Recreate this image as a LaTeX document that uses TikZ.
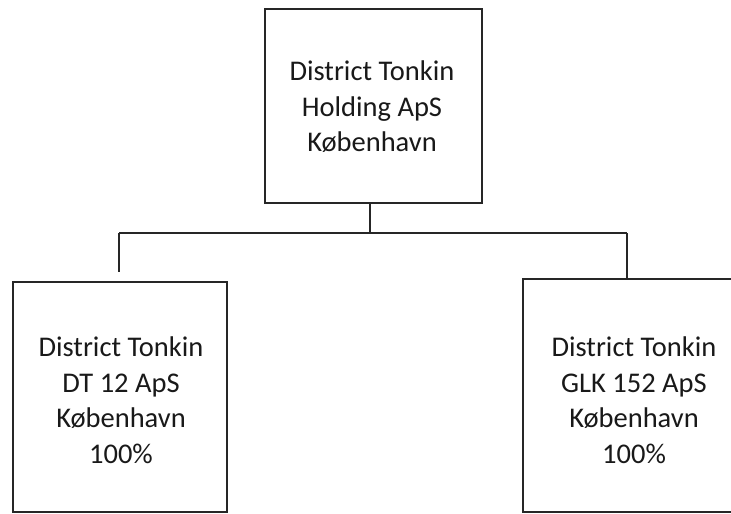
\documentclass[tikz,border=0pt]{standalone}
\usepackage{fontspec}
\setmainfont{Carlito}
\begin{document}
\begin{tikzpicture}[x=1pt,y=-1pt,
  box/.style={draw=black!85,line width=2pt,rectangle,inner sep=0pt},
  lbl/.style={align=center,font=\fontsize{28.5}{35.5}\selectfont,text=black!90,inner sep=0pt},
  conn/.style={draw=black!85,line width=2pt}]
\useasboundingbox (0,0) rectangle (731,514);
\clip (0,0) rectangle (731,514);
\fill[white] (0,0) rectangle (731,514);
% boxes
\node[box,minimum width=217pt,minimum height=194pt] (top) at (373.5,106) {};
\node[box,minimum width=214pt,minimum height=230pt] (left) at (120,397) {};
\node[box,minimum width=220pt,minimum height=233pt] (right) at (633,395.5) {};
% texts
\node[lbl] (toptxt) at (372,107) {District Tonkin\\Holding ApS\\København};
\node[lbl] (lefttxt) at (121,400) {District Tonkin\\DT 12 ApS\\København\\100\%};
\node[lbl] (righttxt) at (634,400) {District Tonkin\\GLK 152 ApS\\København\\100\%};
% connectors
\coordinate (j) at (370,233);
\coordinate (lj) at (119,233);
\coordinate (rj) at (627,233);
\coordinate (lend) at (119,272);
\draw[conn] (top.south -| j) -- (j);
\draw[conn] (lj) -- (rj);
\draw[conn] (lj) -- (lend);
\draw[conn] (rj) -- (right.north -| rj);
\end{tikzpicture}
\end{document}
